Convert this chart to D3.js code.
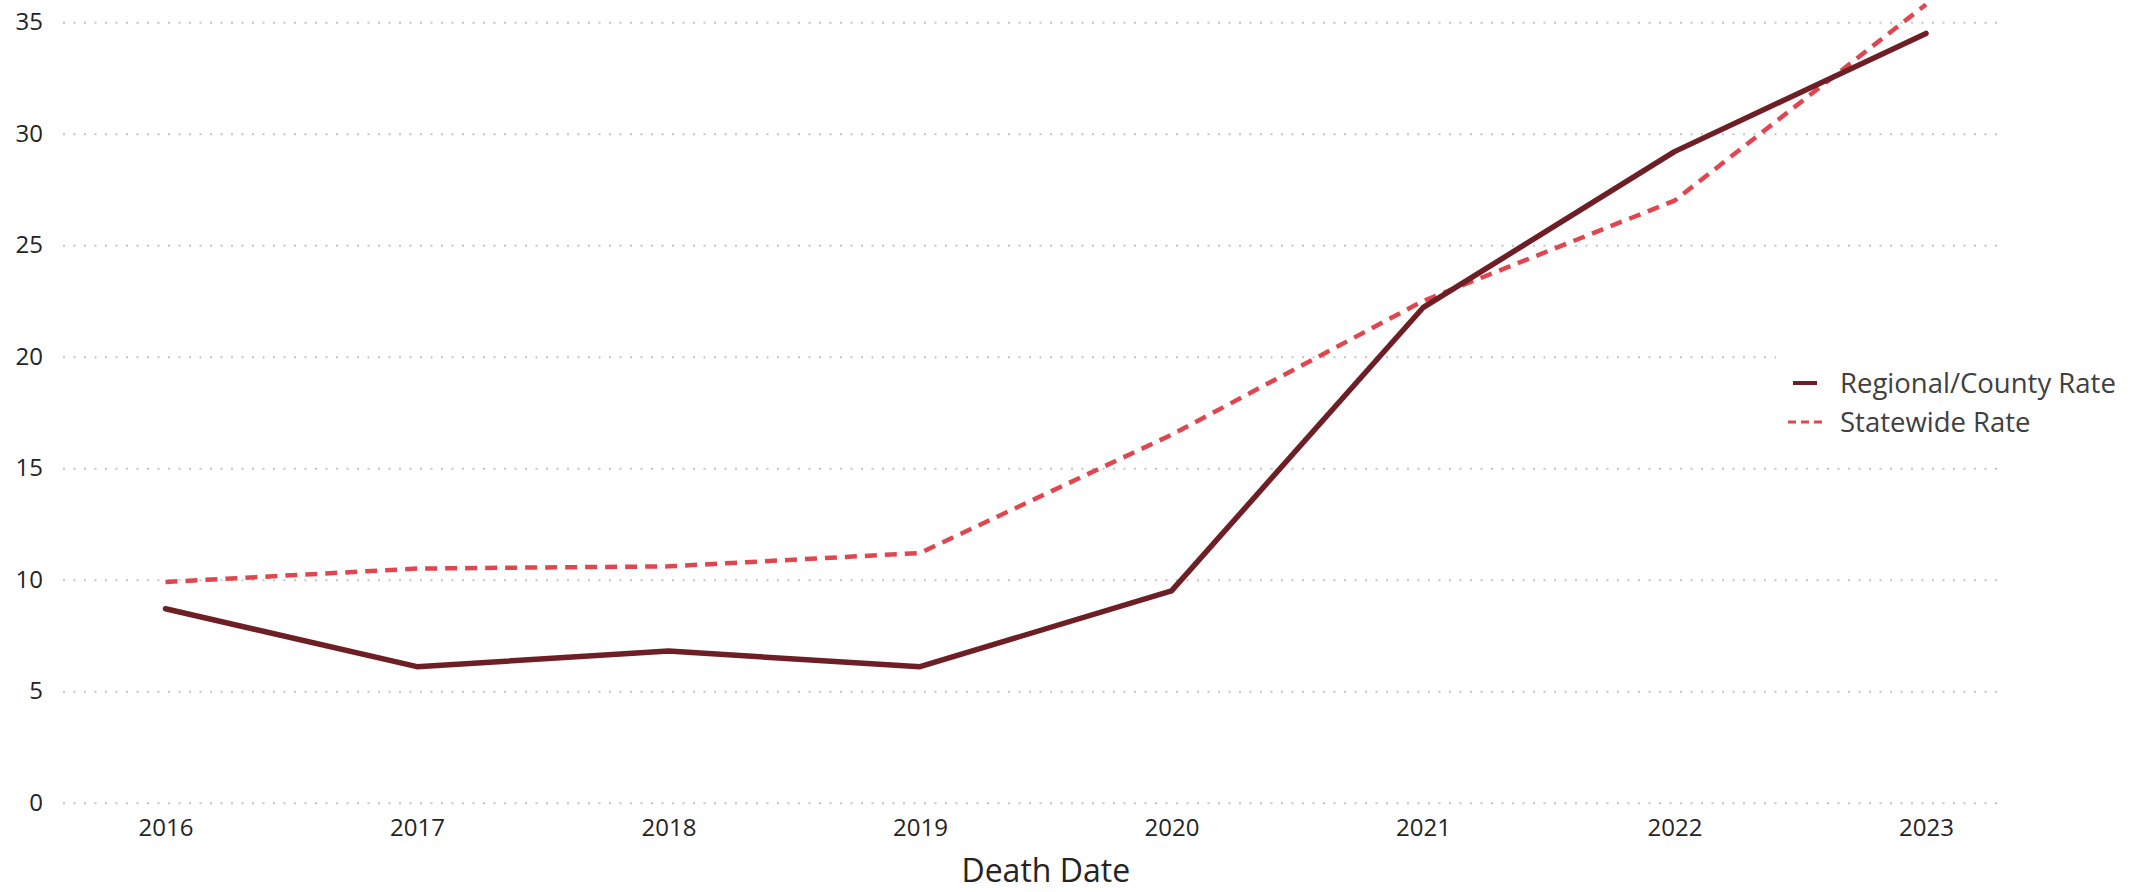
<!DOCTYPE html>
<html>
<head>
<meta charset="utf-8">
<script src="https://cdn.jsdelivr.net/npm/d3@7"></script>
<style>
  body { margin: 0; background: #fff; }
  svg { display: block; }
</style>
</head>
<body>
<svg width="2146" height="892"></svg>
<script>
// chart data
var years = ["2016", "2017", "2018", "2019", "2020", "2021", "2022", "2023"];
var regionalRate = [8.7, 6.1, 6.8, 6.1, 9.5, 22.2, 29.2, 34.5];
var statewideRate = [9.9, 10.5, 10.6, 11.2, 16.5, 22.5, 27.0, 35.8];
var yTicks = [0, 5, 10, 15, 20, 25, 30, 35];
var seriesNames = ["Regional/County Rate", "Statewide Rate"];

var svg = d3.select("svg"),
    font = "'Open Sans', 'Noto Sans', sans-serif";

var gridLeft = 63, gridRight = 2001; // dotted gridlines span

var x = d3.scalePoint().domain(years).range([165.5, 1926]);
var y = d3.scaleLinear().domain([0, 35]).range([802.7, 22.3]);

// y axis + dotted gridlines
var yAxis = svg.append("g")
    .attr("transform", "translate(" + gridLeft + ",0)")
    .call(d3.axisLeft(y).tickValues(yTicks).tickSize(-(gridRight - gridLeft)).tickPadding(20));
yAxis.select(".domain").remove();
yAxis.selectAll("line")
    .attr("stroke", "#c4c4c4")
    .attr("stroke-width", 2)
    .attr("stroke-dasharray", "2,8.5");
yAxis.selectAll("text")
    .attr("font-family", font)
    .attr("font-size", 24)
    .attr("fill", "#252423");

// x axis
var xAxis = svg.append("g")
    .attr("transform", "translate(0," + y(0) + ")")
    .call(d3.axisBottom(x).tickSize(0).tickPadding(16));
xAxis.select(".domain").remove();
xAxis.selectAll("text")
    .attr("font-family", font)
    .attr("font-size", 24)
    .attr("fill", "#252423");

svg.append("text")
    .attr("x", (x("2016") + x("2023")) / 2)
    .attr("y", 882)
    .attr("text-anchor", "middle")
    .attr("font-family", font)
    .attr("font-size", 32)
    .attr("fill", "#252423")
    .text("Death Date");

var line = d3.line()
    .x(function(d, i) { return x(years[i]); })
    .y(function(d) { return y(d); });

svg.append("path")
    .datum(statewideRate)
    .attr("d", line)
    .attr("fill", "none")
    .attr("stroke", "#e0464f")
    .attr("stroke-width", 4.5)
    .attr("stroke-dasharray", "12,8");

svg.append("path")
    .datum(regionalRate)
    .attr("d", line)
    .attr("fill", "none")
    .attr("stroke", "#6e1f26")
    .attr("stroke-width", 5.5)
    .attr("stroke-linejoin", "round")
    .attr("stroke-linecap", "round");

// legend (white box hides the gridline behind it)
var legend = svg.append("g");
legend.append("rect")
    .attr("x", 1776).attr("y", 345)
    .attr("width", 370).attr("height", 105)
    .attr("fill", "#fff");

legend.append("line")
    .attr("x1", 1793).attr("x2", 1817)
    .attr("y1", 383).attr("y2", 383)
    .attr("stroke", "#6e1f26")
    .attr("stroke-width", 4);
legend.append("line")
    .attr("x1", 1788).attr("x2", 1826)
    .attr("y1", 422).attr("y2", 422)
    .attr("stroke", "#e0464f")
    .attr("stroke-width", 3)
    .attr("stroke-dasharray", "8,5");

legend.selectAll(".legend-text")
    .data(seriesNames).enter().append("text")
    .attr("class", "legend-text")
    .attr("x", 1840)
    .attr("y", function(d, i) { return 383 + i * 39; })
    .attr("dy", "0.35em")
    .attr("font-family", font)
    .attr("font-size", 27.5)
    .attr("fill", "#404040")
    .text(function(d) { return d; });
</script>
</body>
</html>
